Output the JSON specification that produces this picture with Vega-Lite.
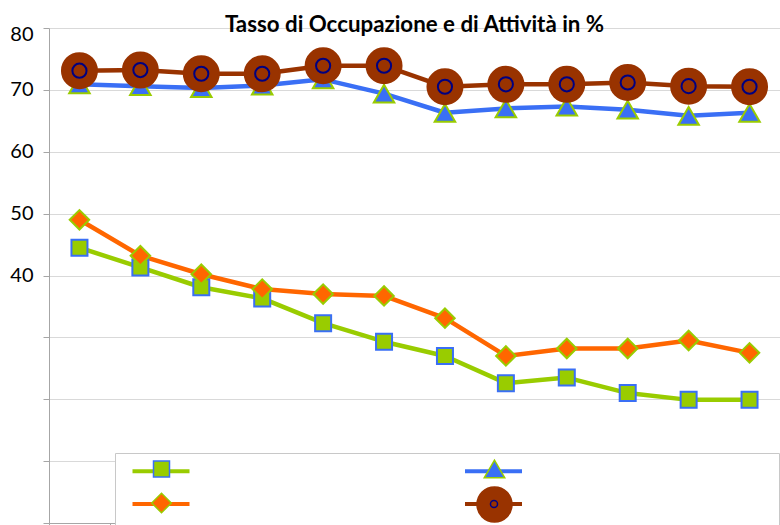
{
  "$schema": "https://vega.github.io/schema/vega-lite/v6.json",
  "width": 731,
  "height": 495,
  "autosize": {"type": "none"},
  "padding": {"left": 49, "top": 28, "right": 0, "bottom": 2},
  "background": "white",
  "config": {"view": {"stroke": null}, "font": "Lato"},
  "title": {
    "text": "Tasso di Occupazione e di Attività in %",
    "font": "Lato",
    "fontSize": 22.3,
    "fontWeight": "bold",
    "color": "#000000",
    "anchor": "middle",
    "dx": 0,
    "offset": -12
  },
  "data": {
    "values": [
      {"anno": "2004", "serie": "Occupazione 15-24", "valore": 44.5},
      {"anno": "2005", "serie": "Occupazione 15-24", "valore": 41.3},
      {"anno": "2006", "serie": "Occupazione 15-24", "valore": 38.1},
      {"anno": "2007", "serie": "Occupazione 15-24", "valore": 36.3},
      {"anno": "2008", "serie": "Occupazione 15-24", "valore": 32.3},
      {"anno": "2009", "serie": "Occupazione 15-24", "valore": 29.3},
      {"anno": "2010", "serie": "Occupazione 15-24", "valore": 27.0},
      {"anno": "2011", "serie": "Occupazione 15-24", "valore": 22.6},
      {"anno": "2012", "serie": "Occupazione 15-24", "valore": 23.5},
      {"anno": "2013", "serie": "Occupazione 15-24", "valore": 21.0},
      {"anno": "2014", "serie": "Occupazione 15-24", "valore": 19.9},
      {"anno": "2015", "serie": "Occupazione 15-24", "valore": 19.9},
      {"anno": "2004", "serie": "Occupazione", "valore": 70.9},
      {"anno": "2005", "serie": "Occupazione", "valore": 70.6},
      {"anno": "2006", "serie": "Occupazione", "valore": 70.3},
      {"anno": "2007", "serie": "Occupazione", "valore": 70.7},
      {"anno": "2008", "serie": "Occupazione", "valore": 71.7},
      {"anno": "2009", "serie": "Occupazione", "valore": 69.4},
      {"anno": "2010", "serie": "Occupazione", "valore": 66.3},
      {"anno": "2011", "serie": "Occupazione", "valore": 67.0},
      {"anno": "2012", "serie": "Occupazione", "valore": 67.3},
      {"anno": "2013", "serie": "Occupazione", "valore": 66.8},
      {"anno": "2014", "serie": "Occupazione", "valore": 65.8},
      {"anno": "2015", "serie": "Occupazione", "valore": 66.3},
      {"anno": "2004", "serie": "Attività 15-24", "valore": 49.0},
      {"anno": "2005", "serie": "Attività 15-24", "valore": 43.2},
      {"anno": "2006", "serie": "Attività 15-24", "valore": 40.2},
      {"anno": "2007", "serie": "Attività 15-24", "valore": 37.8},
      {"anno": "2008", "serie": "Attività 15-24", "valore": 37.0},
      {"anno": "2009", "serie": "Attività 15-24", "valore": 36.7},
      {"anno": "2010", "serie": "Attività 15-24", "valore": 33.1},
      {"anno": "2011", "serie": "Attività 15-24", "valore": 27.0},
      {"anno": "2012", "serie": "Attività 15-24", "valore": 28.2},
      {"anno": "2013", "serie": "Attività 15-24", "valore": 28.2},
      {"anno": "2014", "serie": "Attività 15-24", "valore": 29.5},
      {"anno": "2015", "serie": "Attività 15-24", "valore": 27.5},
      {"anno": "2004", "serie": "Attività", "valore": 73.1},
      {"anno": "2005", "serie": "Attività", "valore": 73.2},
      {"anno": "2006", "serie": "Attività", "valore": 72.6},
      {"anno": "2007", "serie": "Attività", "valore": 72.6},
      {"anno": "2008", "serie": "Attività", "valore": 73.9},
      {"anno": "2009", "serie": "Attività", "valore": 73.9},
      {"anno": "2010", "serie": "Attività", "valore": 70.5},
      {"anno": "2011", "serie": "Attività", "valore": 70.9},
      {"anno": "2012", "serie": "Attività", "valore": 70.9},
      {"anno": "2013", "serie": "Attività", "valore": 71.2},
      {"anno": "2014", "serie": "Attività", "valore": 70.6},
      {"anno": "2015", "serie": "Attività", "valore": 70.5}
    ]
  },
  "encoding": {
    "x": {
      "field": "anno",
      "type": "ordinal",
      "scale": {"type": "band", "paddingInner": 0, "paddingOuter": 0},
      "axis": {
        "labels": false,
        "title": null,
        "grid": false,
        "domainColor": "#a6a6a6",
        "tickColor": "#a6a6a6",
        "tickBand": "extent",
        "tickSize": 5
      }
    },
    "y": {
      "field": "valore",
      "type": "quantitative",
      "scale": {"domain": [0, 80], "nice": false, "zero": false},
      "axis": {
        "values": [0, 10, 20, 30, 40, 50, 60, 70, 80],
        "labelExpr": "datum.value >= 40 ? datum.label : ''",
        "title": null,
        "grid": true,
        "gridColor": "#d9d9d9",
        "gridWidth": 1,
        "domainColor": "#a6a6a6",
        "tickColor": "#a6a6a6",
        "tickSize": 6,
        "labelFont": "Lato",
        "labelFontSize": 20,
        "labelColor": "#000000",
        "labelPadding": 10,
        "labelOffset": {"condition": {"test": "datum.value == 80", "value": 6}, "value": 0}
      }
    }
  },
  "layer": [
    {
      "mark": {"type": "line", "strokeWidth": 4.5, "strokeJoin": "round"},
      "encoding": {
        "color": {
          "field": "serie",
          "type": "nominal",
          "scale": {
            "domain": ["Occupazione", "Occupazione 15-24", "Attività", "Attività 15-24"],
            "range": ["#3a6ff5", "#99cc00", "#993300", "#ff6600"]
          },
          "legend": {
            "values": ["Occupazione 15-24", "Occupazione", "Attività 15-24", "Attività"],
            "title": null,
            "orient": "none",
            "legendX": 66,
            "legendY": 425,
            "direction": "horizontal",
            "columns": 2,
            "symbolType": "M-3,0H3",
            "symbolSize": 361,
            "symbolStrokeWidth": 4,
            "symbolOffset": 28,
            "labelExpr": "''",
            "labelFontSize": 14,
            "labelBaseline": "top",
            "labelOffset": 267,
            "columnPadding": 14.5,
            "rowPadding": 7,
            "padding": 6.5,
            "fillColor": "white",
            "strokeColor": "#c8c8c8"
          }
        }
      }
    },
    {
      "mark": {"type": "point", "filled": true, "opacity": 1, "strokeWidth": 2},
      "encoding": {
        "fill": {
          "field": "serie",
          "type": "nominal",
          "scale": {
            "domain": ["Occupazione 15-24", "Occupazione", "Attività 15-24", "Attività"],
            "range": ["#99cc00", "#3a6ff5", "#ff6600", "#993300"]
          },
          "legend": {
            "title": null,
            "orient": "none",
            "legendX": 94,
            "legendY": 424,
            "direction": "horizontal",
            "columns": 2,
            "labelExpr": "''",
            "labelFontSize": 34,
            "labelOffset": 0,
            "columnPadding": 294,
            "rowPadding": -4,
            "padding": 0,
            "symbolStrokeWidth": 1.5,
            "symbolOpacity": 1
          }
        },
        "shape": {
          "field": "serie",
          "type": "nominal",
          "scale": {
            "domain": ["Occupazione 15-24", "Occupazione", "Attività 15-24", "Attività"],
            "range": ["square", "triangle-up", "diamond", "circle"]
          }
        },
        "stroke": {
          "field": "serie",
          "type": "nominal",
          "scale": {
            "domain": ["Occupazione 15-24", "Occupazione", "Attività 15-24", "Attività"],
            "range": ["#3a6ff5", "#99cc00", "#99cc00", "#993300"]
          }
        },
        "size": {
          "field": "serie",
          "type": "nominal",
          "scale": {
            "type": "ordinal",
            "domain": ["Occupazione 15-24", "Occupazione", "Attività 15-24", "Attività"],
            "range": [256, 420, 380, 1225]
          }
        }
      }
    },
    {
      "transform": [{"filter": "datum.serie === 'Attività'"}],
      "mark": {"type": "point", "shape": "circle", "filled": false, "stroke": "#000080", "strokeWidth": 2, "size": 200},
      "encoding": {
        "opacity": {
          "field": "serie",
          "type": "nominal",
          "scale": {"type": "ordinal", "domain": ["Attività"], "range": [1]},
          "legend": {
            "title": null,
            "orient": "none",
            "legendX": 440.5,
            "legendY": 471.5,
            "labelExpr": "''",
            "labelFontSize": 7,
            "labelOffset": 0,
            "padding": 0,
            "symbolType": "circle",
            "symbolSize": 50,
            "symbolStrokeWidth": 1.5,
            "symbolStrokeColor": "#000080",
            "symbolFillColor": "transparent"
          }
        }
      }
    }
  ]
}
